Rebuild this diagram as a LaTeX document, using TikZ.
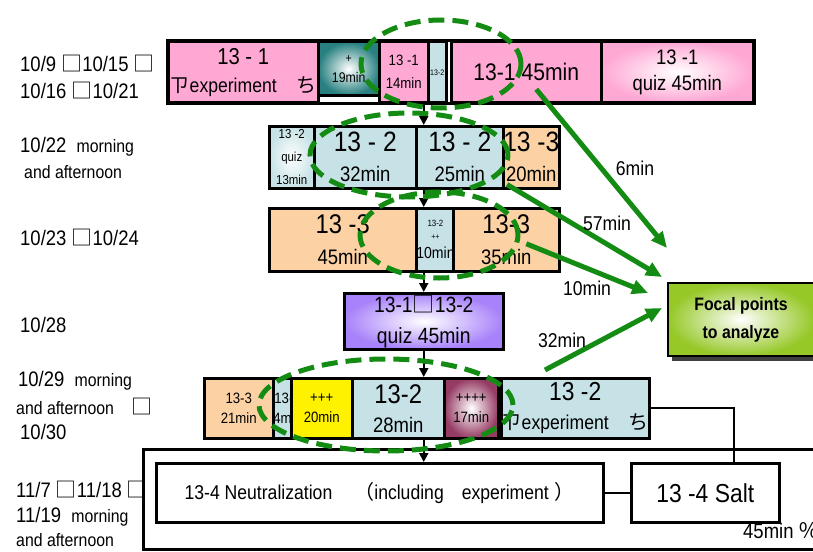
\documentclass[tikz,border=0pt]{standalone}
\usepackage{fontspec}
\setmainfont{Liberation Sans}[FakeStretch=0.88]
\newfontfamily\cjk{Noto Sans CJK JP}
\usetikzlibrary{arrows.meta, shadows}
\usepackage{xcolor}

\definecolor{pinkc}{RGB}{255,168,212}
\definecolor{bluec}{RGB}{198,226,230}
\definecolor{orangec}{RGB}{252,210,164}
\definecolor{purplec}{RGB}{168,130,250}
\definecolor{tealc}{RGB}{40,128,128}
\definecolor{maroonc}{RGB}{150,60,100}
\definecolor{limec}{RGB}{150,200,40}
\definecolor{focusgreen}{RGB}{20,140,20}
\newcommand{\fs}[1]{\fontsize{#1}{#1}\selectfont}
\newcommand{\sq}{{\cjk □}}

\begin{document}
\begin{tikzpicture}[x=1pt, y=-1pt, >=latex]
			\tikzstyle{cell} = [draw=black, line width=2.5pt, rectangle, anchor=north west, inner sep=0pt, align=center]
			\tikzstyle{date} = [anchor=west, inner sep=0pt, font=\fs{21}]
			\tikzstyle{arrow} = [line width=2pt, -{Triangle[length=9pt,width=9pt]}]
			\tikzstyle{garrow} = [draw=focusgreen, line width=5pt, -{Triangle[length=16pt,width=14pt]}]
			\tikzstyle{focus} = [draw=focusgreen, line width=5pt, dash pattern=on 16pt off 8pt]
			\tikzstyle{minlabel} = [inner sep=0pt, font=\fs{20}]
			\useasboundingbox (0,0) rectangle (813,551);

			% dates
			\node[date] at (20, 64)		(d1)	{10/9 \sq10/15 \sq};
			\node[date] at (20, 91)		(d2)	{10/16 \sq10/21};
			\node[date] at (20, 147)	(d3)	{10/22\ \ {\fs{18}morning}};
			\node[date] at (24, 172)	(d4)	{\fs{18}and afternoon};
			\node[date] at (20, 238)	(d5)	{10/23 \sq10/24};
			\node[date] at (20, 325)	(d6)	{10/28};
			\node[date] at (18, 381)	(d7)	{10/29\ \ {\fs{18}morning}};
			\node[date] at (16, 407)	(d8)	{\fs{18}and afternoon\quad\fs{21}\sq};
			\node[date] at (20, 432)	(d9)	{10/30};
			\node[date] at (16, 490)	(d10)	{11/7 \sq11/18 \sq};
			\node[date] at (16, 517)	(d11)	{11/19\ \ {\fs{18}morning}};
			\node[date] at (16, 540)	(d12)	{\fs{18}and afternoon};

			% 10/9 - 10/21
			\node[cell, fill=pinkc, minimum width=150, minimum height=60, font=\fs{20}]	at (167, 41)	(r1a)	{\fs{23}13 - 1\\[8pt]{\cjk ㄗ}experiment\quad{\cjk ち}};
			\node[cell, inner color=white, outer color=tealc, minimum width=61, minimum height=53, font=\fs{14}]	at (317, 41)	(r1b)	{\fs{12}+\\[6pt]19min};
			\node[cell, fill=pinkc, minimum width=49, minimum height=60, font=\fs{15}]	at (378, 41)	(r1c)	{13 -1\\[8pt]14min};
			\node[cell, fill=bluec, minimum width=18, minimum height=60, font=\fs{8}]	at (427, 41)	(r1d)	{13-2};
			\node[cell, fill=pinkc, minimum width=150, minimum height=60, font=\fs{24}]	at (450, 41)	(r1e)	{13-1\ 45min};
			\node[cell, inner color=white, outer color=pinkc, minimum width=152, minimum height=60, font=\fs{21}]	at (600, 41)	(r1f)	{13 -1\\[5pt]quiz 45min};
			\draw[line width=3pt] (r1a.north west) rectangle (r1f.south east);

			% 10/22
			\node[cell, inner color=white, outer color=bluec, minimum width=45, minimum height=62, font=\fs{13}]	at (268, 125)	(r2a)	{13 -2\\[10pt]quiz\\[10pt]13min};
			\node[cell, fill=bluec, minimum width=102, minimum height=62, font=\fs{21}]	at (313, 125)	(r2b)	{\fs{28}13 - 2\\[9pt]32min};
			\node[cell, fill=bluec, minimum width=87, minimum height=62, font=\fs{21}]	at (415, 125)	(r2c)	{\fs{28}13 - 2\\[9pt]25min};
			\node[cell, fill=orangec, minimum width=55, minimum height=62, font=\fs{21}]	at (502, 125)	(r2d)	{\fs{28}13 -3\\[9pt]20min};

			% 10/23 - 10/24
			\node[cell, fill=orangec, minimum width=147, minimum height=63, font=\fs{21}]	at (268, 207)	(r3a)	{\fs{27}13 -3\\[10pt]45min};
			\node[cell, fill=bluec, minimum width=37, minimum height=63, font=\fs{16}]	at (415, 207)	(r3b)	{\fs{9}13-2\\[-3pt]\fs{8}++\\[3pt]10min};
			\node[cell, fill=orangec, minimum width=106, minimum height=63, font=\fs{21}]	at (452, 207)	(r3c)	{\fs{27}13-3\\[10pt]35min};

			% 10/28
			\node[cell, inner color=white, outer color=purplec, minimum width=159, minimum height=56, font=\fs{22}]	at (343, 292)	(r4)	{13-1\sq13-2\\[9pt]quiz 45min};

			% 10/29 - 10/30
			\node[cell, fill=orangec, minimum width=69, minimum height=60, font=\fs{15}]	at (203, 377)	(r5a)	{13-3\\[5pt]21min};
			\node[cell, fill=bluec, minimum width=18, minimum height=60, font=\fs{15}]	at (272, 377)	(r5b)	{13-2\\[5pt]4min};
			\node[cell, fill=yellow, minimum width=61, minimum height=60, font=\fs{15}]	at (290, 377)	(r5c)	{+++\\[5pt]20min};
			\node[cell, fill=bluec, minimum width=92, minimum height=60, font=\fs{21}]	at (351, 377)	(r5d)	{\fs{27}13-2\\[8pt]28min};
			\node[cell, inner color=white, outer color=maroonc, minimum width=54, minimum height=60, font=\fs{15}]	at (443, 377)	(r5e)	{++++\\[5pt]17min};
			\node[cell, fill=bluec, minimum width=148, minimum height=60, font=\fs{20}]	at (500, 377)	(r5f)	{\fs{26}13 -2\\[9pt]{\cjk ㄗ}experiment\quad{\cjk ち}};

			% 11/7 - 11/19
			\draw[line width=3pt] (143, 449) rectangle (850, 549);
			\node[cell, minimum width=447, minimum height=59, font=\fs{20}]	at (155, 462)	(r6a)	{13-4 Neutralization\hspace{22pt}{\cjk （}including\hspace{18pt}experiment\hspace{6pt}{\cjk ）}};
			\node[cell, minimum width=148, minimum height=59, font=\fs{26}]	at (630, 462)	(r6b)	{13 -4 Salt};
			\node[minlabel, anchor=west, font=\fs{21}] at (743, 531)	(t45)	{45min {\cjk ％}};
			\draw[line width=2.5pt] (r6a) -- (r6b);
			\draw[line width=2pt] (r5f.east) -| ([xshift=29pt]r6b.north);

			% order of lessons
			\draw[arrow] (r1c.south -| r4.north) -- (r2c.north -| r4.north);
			\draw[arrow] (r2c.south -| r4.north) -- (r3b.north -| r4.north);
			\draw[arrow] (r3b.south -| r4.north) -- (r4.north);
			\draw[arrow] (r4.south) -- (r5d.north -| r4.south);
			\draw[arrow] (r5d.south -| r4.south) -- (r6a.north -| r4.south);

			% focal points
			\node[cell, line width=2pt, inner color=white, outer color=limec, minimum width=146, minimum height=73, font=\bfseries\fs{18}, drop shadow={shadow xshift=4pt, shadow yshift=-5pt, fill=black!75, opacity=1}]	at (667, 282)	(focal)	{Focal points\\[10pt]to analyze};

			\draw[focus] (441, 64) ellipse [x radius=80pt, y radius=44pt];
			\draw[focus] (409, 155) ellipse [x radius=99pt, y radius=42pt];
			\draw[focus] (439, 235) ellipse [x radius=79pt, y radius=43pt];
			\draw[focus] (386, 405) ellipse [x radius=127pt, y radius=46pt];

			\draw[garrow] ([xshift=10pt, yshift=-17pt]r1e.center) -- ([yshift=34pt]focal.north west);
			\draw[garrow] ([xshift=5pt, yshift=5pt]r2d.south west) -- ([xshift=-5pt, yshift=5pt]focal.north west);
			\draw[garrow] ([xshift=20pt, yshift=-4pt]r3c.center) -- ([xshift=-19pt, yshift=-11pt]focal.north west);
			\draw[garrow] ([xshift=45pt, yshift=7pt]r5f.north west) -- ([xshift=-5pt, yshift=-26pt]focal.north west);

			\node[minlabel] at (635, 168)	(t6)	{6min};
			\node[minlabel] at (607, 223)	(t57)	{57min};
			\node[minlabel] at (587, 288)	(t10)	{10min};
			\node[minlabel] at (562, 340)	(t32)	{32min};
		\end{tikzpicture}
\end{document}
